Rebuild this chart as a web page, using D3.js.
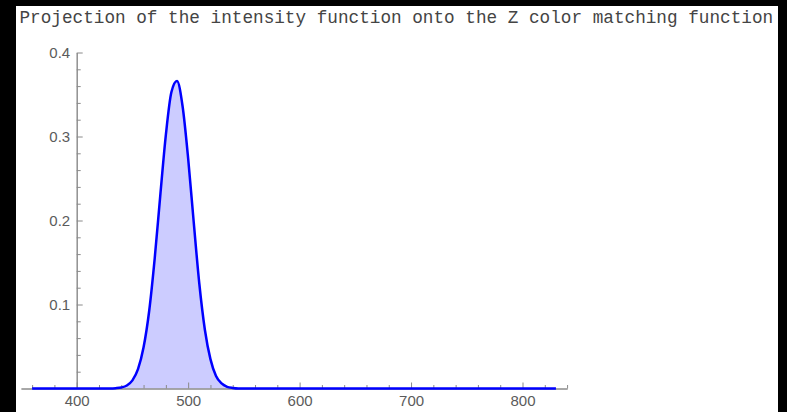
<!DOCTYPE html>
<html>
<head>
<meta charset="utf-8">
<script src="https://cdn.jsdelivr.net/npm/d3@7"></script>
<style>
  html, body { margin: 0; padding: 0; background: #000; }
  svg { display: block; }
</style>
</head>
<body>
<div id="chart"></div>
<script>
const width = 787
const height = 412

const title = 'Projection of the intensity function onto the Z color matching function'

// wavelength (nm) and projected intensity
const wavelengths = [360, 430, 435, 440, 445, 450, 455, 460, 465, 470, 475, 480, 485, 490,
                     495, 500, 505, 510, 515, 520, 525, 530, 535, 540, 545, 830]
const values = [0, 0.0001, 0.0004, 0.0012, 0.0036, 0.0097, 0.023, 0.049, 0.092, 0.155, 0.23, 0.302, 0.353, 0.366,
                0.336, 0.274, 0.198, 0.125, 0.07, 0.035, 0.015, 0.006, 0.002, 0.0006, 0, 0]

const x_ticks = [400, 500, 600, 700, 800]
const x_minor = [360, 380, 420, 440, 460, 480, 520, 540, 560, 580, 620, 640, 660, 680,
                 720, 740, 760, 780, 820, 840]
const y_ticks = [0.1, 0.2, 0.3, 0.4]
const y_minor = [0.02, 0.04, 0.06, 0.08, 0.12, 0.14, 0.16, 0.18, 0.22, 0.24, 0.26, 0.28,
                 0.32, 0.34, 0.36, 0.38]

const axis_color = '#8a8a8a'
const label_color = '#5b5b5b'

const svg = d3.select('#chart')
    .append('svg')
    .attr('width', width)
    .attr('height', height)

// white panel on black background
svg.append('rect')
    .attr('x', 16)
    .attr('y', 6)
    .attr('width', 762)
    .attr('height', height - 6)
    .attr('fill', '#fff')

svg.append('text')
    .attr('x', 19.5)
    .attr('y', 23)
    .attr('font-family', '"Liberation Mono", "Courier New", monospace')
    .attr('font-size', '17.7px')
    .attr('fill', '#444')
    .text(title)

const x = d3.scaleLinear().domain([400, 800]).range([76.7, 522.5])
const y = d3.scaleLinear().domain([0, 0.4]).range([388.5, 52.5])

const data = wavelengths.map((w, i) => ({ w: w, v: values[i] }))

// filled area under the curve
const area = d3.area()
    .x(d => x(d.w))
    .y0(y(0))
    .y1(d => y(d.v))
    .curve(d3.curveMonotoneX)

svg.append('path')
    .datum(data)
    .attr('d', area)
    .attr('fill', '#ccccff')

// axes (minor and major ticks in separate groups)
const x_extent = [350, 840]
const x_axis_scale = x.copy().domain(x_extent).range(x_extent.map(x))

svg.append('g')
    .attr('transform', `translate(0,${y(0)})`)
    .call(d3.axisBottom(x_axis_scale).tickValues(x_minor).tickSize(-3.5).tickSizeOuter(0).tickFormat(''))
svg.append('g')
    .attr('transform', `translate(0,${y(0)})`)
    .call(d3.axisBottom(x_axis_scale).tickValues(x_ticks).tickSize(-6).tickSizeOuter(0).tickPadding(7))

svg.append('g')
    .attr('transform', `translate(${x(400)},0)`)
    .call(d3.axisLeft(y).tickValues(y_minor).tickSize(-4).tickSizeOuter(0).tickFormat(''))
svg.append('g')
    .attr('transform', `translate(${x(400)},0)`)
    .call(d3.axisLeft(y).tickValues(y_ticks).tickSize(-6).tickSizeOuter(0).tickPadding(6.5).tickFormat(d3.format('.1f')))

svg.selectAll('.domain, .tick line')
    .attr('stroke', axis_color)
    .attr('stroke-width', 1)
svg.selectAll('.tick text')
    .attr('fill', label_color)
    .attr('font-family', '"Liberation Sans", Arial, sans-serif')
    .attr('font-size', '15px')

// curve
const line = d3.line()
    .x(d => x(d.w))
    .y(d => y(d.v))
    .curve(d3.curveMonotoneX)

svg.append('path')
    .datum(data)
    .attr('d', line)
    .attr('fill', 'none')
    .attr('stroke', '#0000ff')
    .attr('stroke-width', 2.5)
    .attr('stroke-linejoin', 'round')
</script>
</body>
</html>
